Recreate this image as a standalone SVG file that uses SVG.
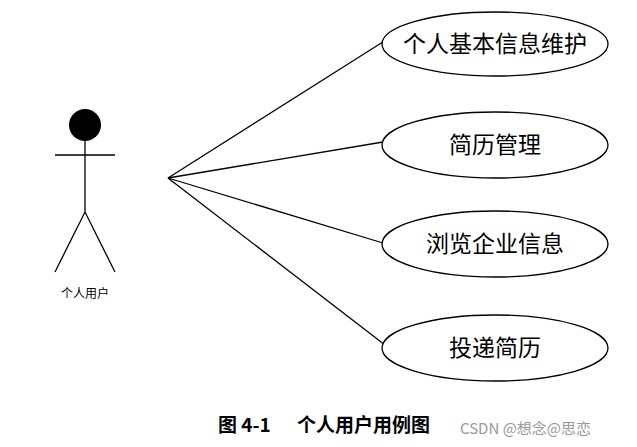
<svg xmlns="http://www.w3.org/2000/svg" width="637" height="447" viewBox="0 0 637 447">
<style>
.l{stroke:#000;stroke-width:1.3;fill:none}
.e{stroke:#000;stroke-width:1.3;fill:#fff}
.t{font-family:"Noto Sans CJK SC",sans-serif;font-size:23px;text-anchor:middle;fill:#000}
.c{font-family:"Noto Sans CJK SC",sans-serif;font-size:19px;font-weight:bold}
</style>
<rect width="637" height="447" fill="#fff"/>
<g id="actor">
<circle cx="85" cy="125" r="16" fill="#000"/>
<line class="l" x1="55" y1="155" x2="115" y2="155"/>
<line class="l" x1="85" y1="140" x2="85" y2="212"/>
<line class="l" x1="85" y1="212" x2="55" y2="272"/>
<line class="l" x1="85" y1="212" x2="115" y2="272"/>
<text x="85" y="298" style="font-family:'Noto Sans CJK SC',sans-serif;font-size:12px;text-anchor:middle">个人用户</text>
</g>
<g id="connectors">
<line class="l" x1="168" y1="178" x2="386" y2="40"/>
<line class="l" x1="168" y1="178" x2="383" y2="142"/>
<line class="l" x1="168" y1="178" x2="383" y2="243"/>
<line class="l" x1="168" y1="178" x2="385" y2="345"/>
</g>
<g id="uc1"><ellipse class="e" cx="495" cy="44" rx="113" ry="32"/><text class="t" x="495" y="52">个人基本信息维护</text></g>
<g id="uc2"><ellipse class="e" cx="495" cy="145" rx="113" ry="33"/><text class="t" x="495" y="153">简历管理</text></g>
<g id="uc3"><ellipse class="e" cx="495" cy="244" rx="113" ry="33"/><text class="t" x="495" y="252">浏览企业信息</text></g>
<g id="uc4"><ellipse class="e" cx="495" cy="348" rx="113" ry="33"/><text class="t" x="495" y="356">投递简历</text></g>
<text class="c" x="218" y="432">图 4-1</text>
<text class="c" x="297" y="432">个人用户用例图</text>
<text x="460" y="434" style="font-family:'Noto Sans CJK SC',sans-serif;font-size:15px;fill:#999">CSDN @想念@思恋</text>
</svg>
